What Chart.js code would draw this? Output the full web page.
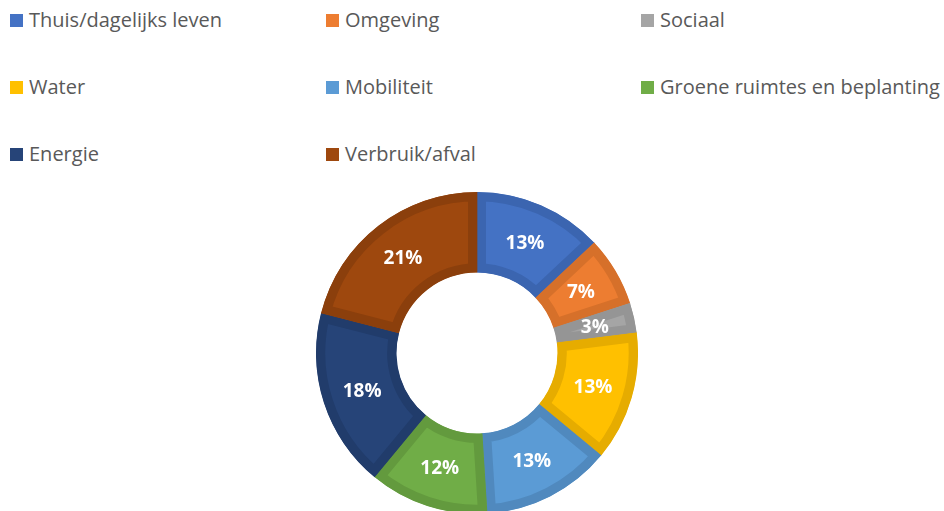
<!DOCTYPE html>
<html>
<head>
<meta charset="utf-8">
<script src="https://cdn.jsdelivr.net/npm/chart.js@4/dist/chart.umd.min.js"></script>
<style>
  html, body { margin: 0; padding: 0; background: #fff; width: 944px; height: 511px; overflow: hidden; }
  #wrap { position: relative; width: 944px; height: 511px; }
  #legend { position: absolute; left: 0; top: 0; width: 944px; height: 180px; font-family: "Open Sans", sans-serif; font-size: 20px; line-height: 28px; color: #595959; }
  .item { position: absolute; display: flex; align-items: center; white-space: nowrap; }
  .box { width: 13px; height: 13px; margin-right: 6px; }
  #chartBox { position: absolute; left: 316px; top: 192px; width: 322px; height: 322px; }
</style>
</head>
<body>
<div id="wrap">
  <div id="legend"></div>
  <div id="chartBox"><canvas id="c"></canvas></div>
</div>
<script>
const categories = ["Thuis/dagelijks leven", "Omgeving", "Sociaal", "Water", "Mobiliteit", "Groene ruimtes en beplanting", "Energie", "Verbruik/afval"];
const percentages = [13, 7, 3, 13, 13, 12, 18, 21];
const fillColors = ["#4472C4", "#ED7D31", "#A5A5A5", "#FFC000", "#5B9BD5", "#70AD47", "#264478", "#9E480E"];
const borderColors = ["#3B65B0", "#D6702A", "#959595", "#E6AC00", "#5089BE", "#639A3E", "#213C6B", "#8B3F0C"];

// HTML legend in 3 columns
const legendEl = document.getElementById('legend');
const colX = [10, 326, 641];
const rowY = [6, 73, 140];
categories.forEach((name, i) => {
  const it = document.createElement('div');
  it.className = 'item';
  it.style.left = colX[i % 3] + 'px';
  it.style.top = rowY[Math.floor(i / 3)] + 'px';
  const b = document.createElement('span');
  b.className = 'box';
  b.style.background = fillColors[i];
  const t = document.createElement('span');
  t.textContent = name;
  it.appendChild(b); it.appendChild(t);
  legendEl.appendChild(it);
});

const labelPlugin = {
  id: 'sliceLabels',
  afterDatasetsDraw(chart) {
    const ctx = chart.ctx;
    const meta = chart.getDatasetMeta(0);
    ctx.save();
    ctx.fillStyle = '#ffffff';
    ctx.font = 'bold 19px "Open Sans", sans-serif';
    ctx.textAlign = 'center';
    ctx.textBaseline = 'middle';
    meta.data.forEach((arc, i) => {
      const p = arc.tooltipPosition();
      ctx.fillText(percentages[i] + '%', p.x, p.y + 1);
    });
    ctx.restore();
  }
};

new Chart(document.getElementById('c'), {
  type: 'doughnut',
  data: {
    labels: categories,
    datasets: [{
      data: percentages,
      backgroundColor: fillColors,
      borderColor: borderColors,
      borderWidth: 9,
      borderAlign: 'inner',
      hoverOffset: 0
    }]
  },
  options: {
    responsive: true,
    maintainAspectRatio: false,
    animation: false,
    cutout: '50%',
    layout: { padding: 0 },
    plugins: { legend: { display: false }, tooltip: { enabled: false } }
  },
  plugins: [labelPlugin]
});
</script>
</body>
</html>
